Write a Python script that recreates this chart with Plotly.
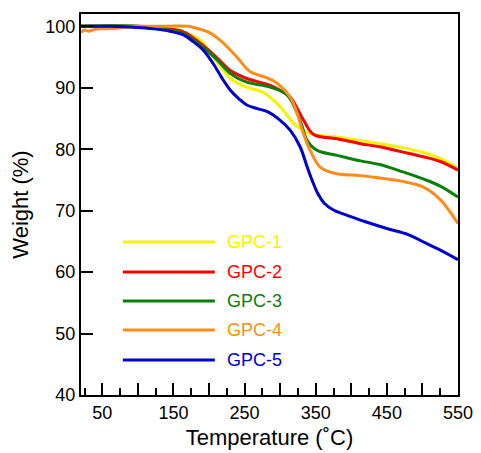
import plotly.graph_objects as go

# ---- data ----
names = ["GPC-1", "GPC-2", "GPC-3", "GPC-4", "GPC-5"]
colors = ["#f7f200", "#ff0000", "#0a800a", "#ff8c1a", "#0000cc"]

t1 = [20, 60, 100, 140, 164, 188, 206, 220, 232, 253, 277, 300, 319, 335, 350, 380, 413, 440, 470, 500, 525, 550]
w1 = [100, 100, 99.9, 99.6, 99.1, 97.7, 94.9, 92.9, 91.3, 90.1, 89.2, 86.9, 84.2, 82.9, 82.3, 82.0, 81.4, 80.9, 80.3, 79.5, 78.5, 76.9]

t2 = [20, 100, 140, 164, 188, 210, 230, 253, 286, 300, 314, 333, 347, 380, 413, 440, 470, 500, 525, 550]
w2 = [100, 100, 99.6, 99.1, 97.2, 95.0, 92.8, 91.5, 90.4, 89.6, 88.5, 84.7, 82.4, 81.7, 80.9, 80.4, 79.6, 78.8, 78.0, 76.6]

t3 = [20, 100, 140, 164, 188, 210, 230, 253, 286, 310, 328, 338, 352, 380, 413, 440, 470, 500, 525, 550]
w3 = [100, 100, 99.5, 98.8, 96.9, 94.7, 92.3, 90.9, 90.1, 88.8, 84.7, 81.4, 79.8, 79.0, 78.1, 77.5, 76.4, 75.2, 74.0, 72.2]

t4 = [20, 25, 30, 40, 50, 70, 100, 140, 170, 188, 200, 216, 239, 258, 277, 296, 314, 324, 331, 343, 357, 380, 413, 440, 470, 500, 525, 550]
w4 = [99.0, 99.4, 99.2, 99.5, 99.6, 99.7, 100, 100, 100, 99.5, 99.0, 97.7, 95.0, 92.6, 91.8, 90.7, 88.5, 85.8, 83.1, 79.6, 77.0, 76.0, 75.7, 75.3, 74.8, 73.9, 71.8, 67.9]

t5 = [20, 60, 100, 120, 145, 164, 178, 192, 206, 218, 230, 242, 253, 268, 282, 300, 314, 328, 338, 345, 352, 362, 375, 395, 420, 450, 480, 505, 530, 550]
w5 = [100, 100, 99.8, 99.6, 99.2, 98.6, 97.5, 96.1, 93.9, 91.6, 89.6, 88.2, 87.2, 86.6, 86.1, 84.7, 83.1, 80.4, 77.1, 74.9, 73.0, 71.2, 70.1, 69.2, 68.2, 67.1, 66.1, 64.7, 63.3, 62.0]

temps = [t1, t2, t3, t4, t5]
weights = [w1, w2, w3, w4, w5]

x_major = list(range(50, 551, 50))
x_labels = [str(v) if v % 100 == 50 else "" for v in x_major]
x_minor = list(range(25, 551, 50))
y_ticks = list(range(40, 101, 10))

FONT = "Liberation Sans, Arial, Helvetica, sans-serif"

fig = go.Figure()
for n, c, t, w in zip(names, colors, temps, weights):
    fig.add_trace(go.Scatter(x=t, y=w, mode="lines", name=n,
                             line=dict(color=c, width=3, shape="spline", smoothing=1.0),
                             showlegend=False))

# custom legend (paper coords)
leg_y = [0.4016, 0.3228, 0.2467, 0.1706, 0.0919]
for n, c, yy in zip(names, colors, leg_y):
    fig.add_shape(type="line", xref="paper", yref="paper", x0=0.111, x1=0.355, y0=yy, y1=yy,
                  line=dict(color=c, width=3))
    fig.add_annotation(xref="paper", yref="paper", x=0.382, y=yy, text=n, showarrow=False,
                       xanchor="left", yanchor="middle", font=dict(color=c, size=18, family=FONT))

fig.update_layout(
    width=481, height=453,
    margin=dict(l=81, r=23, t=14, b=58),
    paper_bgcolor="white", plot_bgcolor="white",
    font=dict(family=FONT, size=18, color="black"),
)
fig.update_xaxes(
    range=[20, 550], showgrid=False, zeroline=False, automargin=False,
    showline=True, linecolor="black", linewidth=2, mirror=True,
    tickmode="array", tickvals=x_major, ticktext=x_labels,
    ticks="inside", ticklen=12, tickwidth=2, tickcolor="black",
    minor=dict(tickmode="array", tickvals=x_minor, ticks="inside", ticklen=7, tickwidth=2, tickcolor="black"),
    title=dict(text="Temperature (˚C)", standoff=8),
)
fig.update_yaxes(
    range=[40, 102], showgrid=False, zeroline=False, automargin=False,
    showline=True, linecolor="black", linewidth=2, mirror=True,
    tickmode="array", tickvals=y_ticks,
    ticks="inside", ticklen=12, tickwidth=2, tickcolor="black",
    title=dict(text="Weight (%)", standoff=11),
)

fig.write_html("out.html")
